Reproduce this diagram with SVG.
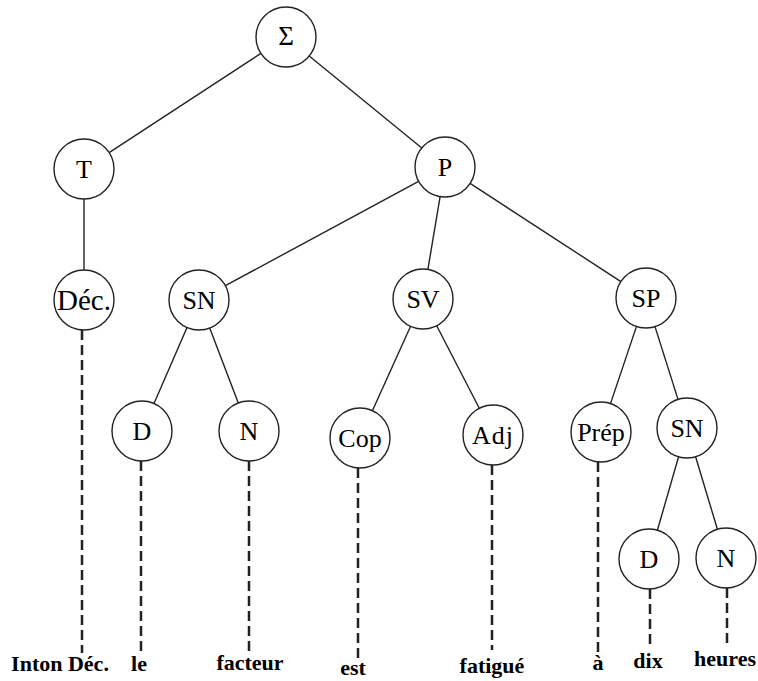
<svg xmlns="http://www.w3.org/2000/svg" width="758" height="681" viewBox="0 0 758 681">
<style>
.n circle{fill:#fff;stroke:#222;stroke-width:1.4}
.n text{font-family:"Liberation Serif","Times New Roman",serif;font-size:26px;text-anchor:middle;fill:#000}
.e line{stroke:#222;stroke-width:1.4}
.d line{stroke:#222;stroke-width:2.5;stroke-dasharray:10 5}
.w{font-family:"Liberation Serif","Times New Roman",serif;font-size:22px;font-weight:bold;text-anchor:middle;fill:#000}
</style>
<rect width="758" height="681" fill="#fff"/>
<g id="connectors">
<g class="e">
<line x1="260.9" y1="53.4" x2="109.1" y2="152.6"/>
<line x1="309.2" y1="56.0" x2="421.8" y2="148.0"/>
<line x1="84" y1="199" x2="84" y2="270"/>
<line x1="418.6" y1="181.3" x2="225.4" y2="285.7"/>
<line x1="440.1" y1="196.6" x2="427.9" y2="269.4"/>
<line x1="470.1" y1="183.4" x2="620.9" y2="281.6"/>
<line x1="187.0" y1="327.5" x2="154.0" y2="403.5"/>
<line x1="209.7" y1="328.0" x2="238.3" y2="403.0"/>
<line x1="410.6" y1="326.3" x2="372.4" y2="410.7"/>
<line x1="436.7" y1="325.7" x2="479.3" y2="408.3"/>
<line x1="636.5" y1="326.4" x2="610.5" y2="403.6"/>
<line x1="655.0" y1="326.6" x2="678.0" y2="399.4"/>
<line x1="678.6" y1="456.8" x2="657.4" y2="530.2"/>
<line x1="695.6" y1="456.7" x2="717.4" y2="529.3"/>
</g>
<g class="d">
<line x1="82" y1="330" x2="82" y2="653"/>
<line x1="141" y1="461" x2="141" y2="652"/>
<line x1="249" y1="461" x2="249" y2="653"/>
<line x1="358" y1="468" x2="358" y2="658"/>
<line x1="492" y1="465" x2="492" y2="650"/>
<line x1="598" y1="462" x2="598" y2="652"/>
<line x1="650" y1="589" x2="650" y2="648"/>
<line x1="727" y1="588" x2="727" y2="647"/>
</g>
</g>
<g id="sigma" class="n"><circle cx="286" cy="37" r="30"/><text x="286" y="45" style="font-size:27px">Σ</text></g>
<g id="T" class="n"><circle cx="84" cy="169" r="30"/><text x="84" y="178">T</text></g>
<g id="P" class="n"><circle cx="445" cy="167" r="30"/><text x="445" y="176">P</text></g>
<g id="Dec" class="n"><circle cx="84" cy="300" r="30"/><text x="84" y="310" style="font-size:29px">Déc.</text></g>
<g id="SN1" class="n"><circle cx="199" cy="300" r="30"/><text x="199" y="309">SN</text></g>
<g id="SV" class="n"><circle cx="423" cy="299" r="30"/><text x="423" y="308">SV</text></g>
<g id="SP" class="n"><circle cx="646" cy="298" r="30"/><text x="646" y="307">SP</text></g>
<g id="D1" class="n"><circle cx="142" cy="431" r="30"/><text x="142" y="440">D</text></g>
<g id="N1" class="n"><circle cx="249" cy="431" r="30"/><text x="249" y="440">N</text></g>
<g id="Cop" class="n"><circle cx="360" cy="438" r="30"/><text x="360" y="447">Cop</text></g>
<g id="Adj" class="n"><circle cx="493" cy="435" r="30"/><text x="493" y="444" style="letter-spacing:1px">Adj</text></g>
<g id="Prep" class="n"><circle cx="601" cy="432" r="30"/><text x="601" y="441">Prép</text></g>
<g id="SN2" class="n"><circle cx="687" cy="428" r="30"/><text x="687" y="437">SN</text></g>
<g id="D2" class="n"><circle cx="649" cy="559" r="30"/><text x="649" y="568">D</text></g>
<g id="N2" class="n"><circle cx="726" cy="558" r="30"/><text x="726" y="567">N</text></g>
<g id="leaves">
<text class="w" x="60" y="671">Inton Déc.</text>
<text class="w" x="139" y="671">le</text>
<text class="w" x="250" y="670">facteur</text>
<text class="w" x="353" y="675">est</text>
<text class="w" x="492" y="673">fatigué</text>
<text class="w" x="598" y="670">à</text>
<text class="w" x="648" y="668">dix</text>
<text class="w" x="725" y="666">heures</text>
</g>
</svg>
